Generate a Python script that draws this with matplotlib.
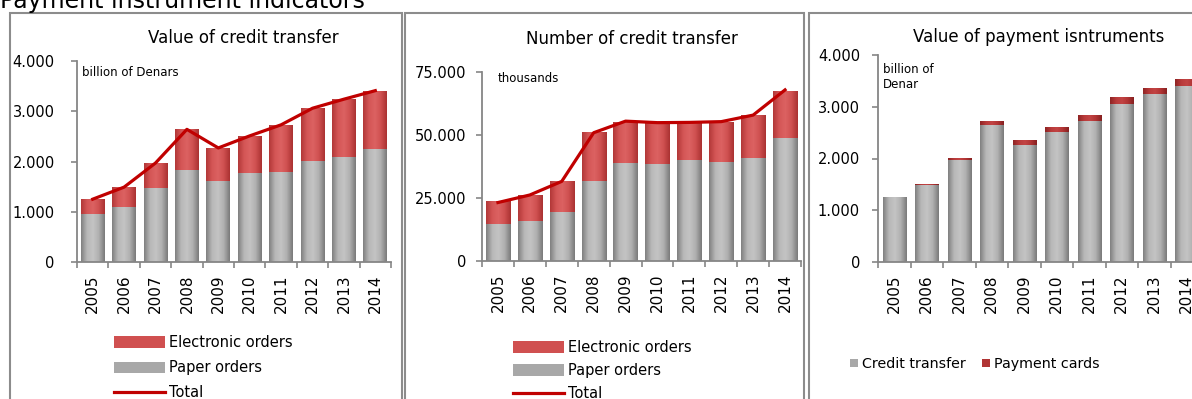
import numpy as np
import matplotlib
matplotlib.use("Agg")
import matplotlib.pyplot as plt
from matplotlib.colors import LinearSegmentedColormap
from matplotlib.patches import Rectangle
from matplotlib.ticker import FuncFormatter, FixedLocator

# data
years = ["2005", "2006", "2007", "2008", "2009", "2010", "2011", "2012", "2013", "2014"]

# value of credit transfer, billion of Denars
value_paper = [950, 1100, 1470, 1830, 1610, 1770, 1800, 2010, 2090, 2250]
value_electronic = [300, 390, 500, 810, 660, 740, 930, 1050, 1150, 1150]
value_total = [1250, 1490, 1970, 2640, 2270, 2510, 2730, 3060, 3240, 3410]

# number of credit transfer, thousands
number_paper = [14700, 15900, 19400, 31700, 38900, 38500, 40100, 39300, 40800, 48800]
number_electronic = [9100, 10300, 12300, 19500, 16300, 16300, 14700, 15900, 17100, 18700]
number_total = [23200, 26200, 31600, 50900, 55500, 54900, 55000, 55300, 57900, 67900]

# value of payment instruments, billion of Denar
instr_credit = [1250, 1490, 1970, 2640, 2270, 2510, 2730, 3060, 3240, 3400]
instr_cards = [15, 20, 45, 80, 85, 95, 105, 120, 125, 140]

W, H = 1192, 399
fig = plt.figure(figsize=(W / 100, H / 100), dpi=100)

gray_cmap = LinearSegmentedColormap.from_list("g", ["#808080", "#b8b8b8", "#c4c4c4", "#b0b0b0", "#7a7a7a"])
red_cmap = LinearSegmentedColormap.from_list("r", ["#b23838", "#d45656", "#dc6262", "#cf5050", "#aa3232"])
dred_cmap = LinearSegmentedColormap.from_list("dr", ["#8e2424", "#b83a3a", "#c24444", "#b03434", "#862020"])
grad = np.linspace(0, 1, 64).reshape(1, -1)


def thousands(v, pos):
    return f"{int(v):,}".replace(",", ".")


def px_axes(left, right, y0, ytop):
    return fig.add_axes([left / W, 1 - y0 / H, (right - left) / W, (y0 - ytop) / H])


def shade(ax, bars, cmap):
    for b in bars:
        x, y, w, h = b.get_x(), b.get_y(), b.get_width(), b.get_height()
        im = ax.imshow(grad, extent=[x, x + w, y, y + h], aspect="auto",
                       cmap=cmap, zorder=2, interpolation="bilinear")
        im.set_clip_path(b)


def style(ax, ymax, ystep, pad):
    x = np.arange(len(years))
    ax.set_xlim(-0.5, len(years) - 0.5)
    ax.set_ylim(0, ymax)
    ax.set_yticks(np.arange(0, ymax + 1, ystep))
    ax.yaxis.set_major_formatter(FuncFormatter(thousands))
    ax.set_xticks(x)
    ax.set_xticklabels(years, rotation=90, fontsize=11)
    ax.xaxis.set_minor_locator(FixedLocator(np.arange(-0.5, len(years), 1)))
    ax.tick_params(axis="x", which="major", length=0, pad=9)
    ax.tick_params(axis="x", which="minor", length=4, color="#868686", width=1.2)
    ax.tick_params(axis="y", length=4, color="#868686", width=1.2, labelsize=10.5, pad=pad)
    for s in ["top", "right"]:
        ax.spines[s].set_visible(False)
    for s in ["left", "bottom"]:
        ax.spines[s].set_color("#868686")
        ax.spines[s].set_linewidth(1.3)
    ax.patch.set_alpha(0)


# panel frames
for left, right in [(10, 402), (405, 804), (809, 1250)]:
    fig.patches.append(Rectangle((left / W, -0.1), (right - left) / W, 1.1 - 13 / H,
                                 transform=fig.transFigure, fill=False,
                                 edgecolor="#8c8c8c", linewidth=1.5))

fig.text(0, 1 - 8 / H, "Payment instrument indicators", fontsize=17, va="baseline", ha="left")

x = np.arange(len(years))

# panel 1
ax1 = px_axes(77, 391, 262, 61)
b1 = ax1.bar(x, value_paper, width=0.76, color="#a8a8a8", label="Paper orders", zorder=2)
b2 = ax1.bar(x, value_electronic, width=0.76, bottom=value_paper, color="#d05050",
             label="Electronic orders", zorder=2)
shade(ax1, b1, gray_cmap)
shade(ax1, b2, red_cmap)
l1, = ax1.plot(x, value_total, color="#c00000", linewidth=2.3, label="Total", zorder=3)
style(ax1, 4000, 1000, 12)
fig.text(82 / W, 1 - 73 / H, "billion of Denars", fontsize=8.5, va="center")
fig.text(243 / W, 1 - 38 / H, "Value of credit transfer", fontsize=12, ha="center", va="center")
fig.legend([b2, b1, l1], ["Electronic orders", "Paper orders", "Total"],
           loc="upper left", bbox_to_anchor=(114 / W, 1 - 335 / H), frameon=False,
           fontsize=10.5, handlelength=3.5, handleheight=0.8, labelspacing=0.7,
           handletextpad=0.3, borderpad=0, borderaxespad=0)

# panel 2
ax2 = px_axes(482, 801, 261, 72)
c1 = ax2.bar(x, number_paper, width=0.76, color="#a8a8a8", zorder=2)
c2 = ax2.bar(x, number_electronic, width=0.76, bottom=number_paper, color="#d05050", zorder=2)
shade(ax2, c1, gray_cmap)
shade(ax2, c2, red_cmap)
l2, = ax2.plot(x, number_total, color="#c00000", linewidth=2.3, zorder=3)
style(ax2, 75000, 25000, 7)
fig.text(498 / W, 1 - 79 / H, "thousands", fontsize=8.5, va="center")
fig.text(632 / W, 1 - 39 / H, "Number of credit transfer", fontsize=12, ha="center", va="center")
fig.legend([c2, c1, l2], ["Electronic orders", "Paper orders", "Total"],
           loc="upper left", bbox_to_anchor=(513 / W, 1 - 340 / H), frameon=False,
           fontsize=10.5, handlelength=3.5, handleheight=0.8, labelspacing=0.55,
           handletextpad=0.3, borderpad=0, borderaxespad=0)

# panel 3
ax3 = px_axes(878, 1203, 262, 55)
d1 = ax3.bar(x, instr_credit, width=0.71, color="#a8a8a8", zorder=2)
d2 = ax3.bar(x, instr_cards, width=0.71, bottom=instr_credit, color="#b03434", zorder=2)
shade(ax3, d1, gray_cmap)
shade(ax3, d2, dred_cmap)
style(ax3, 4000, 1000, 9)
fig.text(883 / W, 1 - 63 / H, "billion of\nDenar", fontsize=8.5, va="top", linespacing=1.25)
fig.text(913 / W, 1 - 37 / H, "Value of payment isntruments", fontsize=12, ha="left", va="center")
fig.legend([d1, d2], ["Credit transfer", "Payment cards"], ncol=2,
           loc="center left", bbox_to_anchor=(850 / W, 1 - 364 / H), frameon=False,
           fontsize=10.3, handlelength=0.55, handleheight=0.55, handletextpad=0.3,
           columnspacing=1.1, borderpad=0, borderaxespad=0)

fig.savefig("out.png", dpi=100)
